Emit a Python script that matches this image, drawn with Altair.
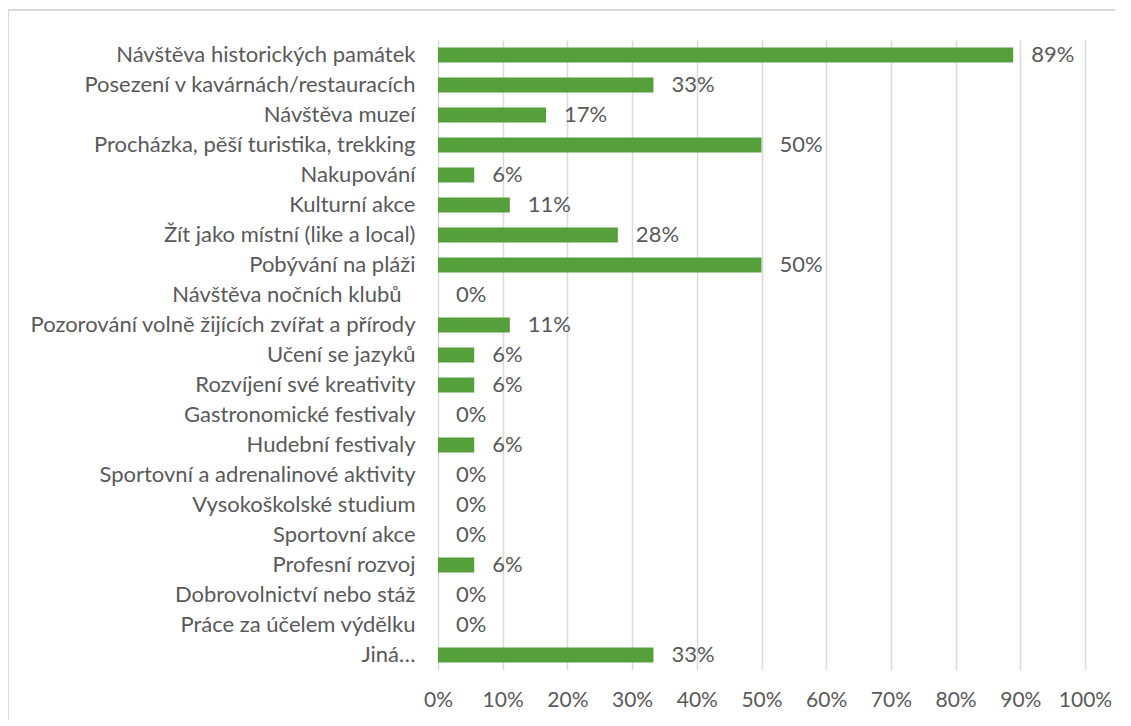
import altair as alt
import pandas as pd

categories = [
    "Návštěva historických památek",
    "Posezení v kavárnách/restauracích",
    "Návštěva muzeí",
    "Procházka, pěší turistika, trekking",
    "Nakupování",
    "Kulturní akce",
    "Žít jako místní (like a local)",
    "Pobývání na pláži",
    "Návštěva nočních klubů",
    "Pozorování volně žijících zvířat a přírody",
    "Učení se jazyků",
    "Rozvíjení své kreativity",
    "Gastronomické festivaly",
    "Hudební festivaly",
    "Sportovní a adrenalinové aktivity",
    "Vysokoškolské studium",
    "Sportovní akce",
    "Profesní rozvoj",
    "Dobrovolnictví nebo stáž",
    "Práce za účelem výdělku",
    "Jiná…",
]
values = [0.889, 0.333, 0.167, 0.5, 0.056, 0.111, 0.278, 0.5, 0.0, 0.111,
          0.056, 0.056, 0.0, 0.056, 0.0, 0.0, 0.0, 0.056, 0.0, 0.0, 0.333]
x_ticks = [0, 0.1, 0.2, 0.3, 0.4, 0.5, 0.6, 0.7, 0.8, 0.9, 1.0]

df = pd.DataFrame({"cat": categories, "val": values})

FONT = "Lato"
FS = 22
TXT = "#595959"
GREEN = "#55A03B"

y_enc = alt.Y(
    "cat:N",
    sort=categories,
    title=None,
    scale=alt.Scale(paddingInner=0.5, paddingOuter=0.25),
    axis=alt.Axis(
        domain=False, ticks=False, grid=False,
        labelPadding={
            "condition": {"test": "datum.value === 'Návštěva nočních klubů'", "value": 37},
            "value": 23,
        },
        labelFontSize=FS, labelColor=TXT, labelFont=FONT, labelLimit=600,
    ),
)
x_enc = alt.X(
    "val:Q",
    title=None,
    scale=alt.Scale(domain=[0, 1], nice=False),
    axis=alt.Axis(
        values=x_ticks, format=".0%", domain=False, ticks=False,
        grid=True, gridColor="#D9D9D9", gridWidth=1.5,
        labelOverlap=False, labelFlush=False,
        labelPadding=19, labelFontSize=21, labelColor=TXT, labelFont=FONT,
    ),
)

border = alt.Chart(df).mark_rect(
    fill=None, stroke="#D9D9D9", strokeWidth=1.5
).encode(
    x=alt.value(-430), x2=alt.value(760), y=alt.value(-30), y2=alt.value(760)
)

bars = alt.Chart(df).mark_bar(color=GREEN).encode(y=y_enc, x=x_enc)

labels = alt.Chart(df).mark_text(
    align="left", baseline="middle", dx=18, fontSize=FS, font=FONT, color=TXT
).encode(
    y=alt.Y("cat:N", sort=categories),
    x=alt.X("val:Q"),
    text=alt.Text("val:Q", format=".0%"),
)

chart = alt.layer(border, bars, labels).properties(
    width=647,
    height=630,
    autosize=alt.AutoSizeParams(type="none"),
    padding={"left": 430, "top": 32, "right": 30, "bottom": 50},
    background="white",
).configure_view(stroke=None)

chart.save("out.html", embed_options={"renderer": "svg", "actions": False})
